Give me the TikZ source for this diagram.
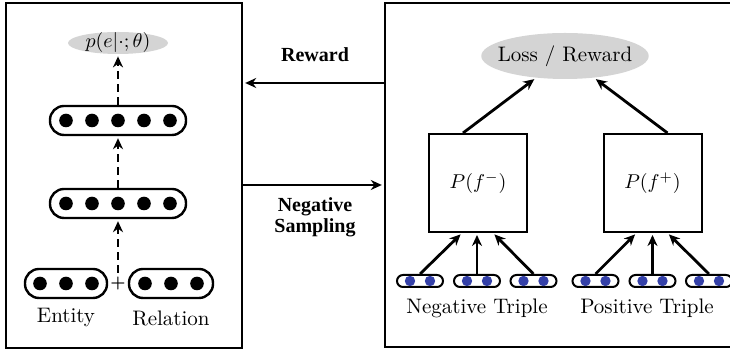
\documentclass[tikz,border=0pt]{standalone}
\usepackage{fontspec}
\newfontfamily\rewardfont{Liberation Serif}
\usetikzlibrary{arrows.meta,shapes.geometric}
\definecolor{lossgray}{RGB}{212,212,212}
\definecolor{dotblue}{RGB}{52,64,168}

\tikzset{
  panel/.style={draw,line width=1.2pt,inner sep=0pt},
  vecbox/.style={draw,line width=1.2pt,rounded corners=7pt,minimum height=14.5pt,inner sep=0pt},
  tinyvec/.style={draw,line width=1pt,rounded corners=3pt,minimum width=23pt,minimum height=6pt,inner sep=0pt},
  outbox/.style={draw,line width=1pt,minimum width=49pt,minimum height=49pt},
  score/.style={ellipse,fill=lossgray},
  biglabel/.style={font=\fontsize{10.5}{12}\selectfont},
  sidelabel/.style={font=\rewardfont\bfseries\fontsize{10}{10.5}\selectfont,align=center}
}

\begin{document}
\begin{tikzpicture}[x=0.5pt,y=-0.5pt]
\useasboundingbox (0,0) rectangle (730,351);

% generator side
\node[panel,minimum width=118pt,minimum height=172.5pt] (gen) at (124,175.5) {};
\node[score,minimum width=50pt,minimum height=11pt,inner sep=-2pt] (pe) at (118,43) {$p(e|\cdot;\theta)$};
\node[vecbox,minimum width=68pt] (hid2) at (118,120.5) {};
\node[vecbox,minimum width=68pt] (hid1) at (118,203.5) {};
\node[vecbox,minimum width=41pt] (entity) at (66,283.5) {};
\node[vecbox,minimum width=42pt] (relation) at (171,283.5) {};
\node[font=\footnotesize\bfseries,inner sep=2pt] (plus) at (118,283.5) {+};
\node[biglabel] (entitylabel) at (66,318) {Entity};
\node[biglabel] (relationlabel) at (171,318) {Relation};

\foreach \dx in {-52,-26,0,26,52} {
  \fill (hid2) ++(\dx,0) circle (3.4pt);
  \fill (hid1) ++(\dx,0) circle (3.4pt);
}
\foreach \dx in {-26,0,26} {
  \fill (entity) ++(\dx,0) circle (3.4pt);
  \fill (relation) ++(\dx,0) circle (3.4pt);
}

% discriminator side
\node[panel,minimum width=180pt,minimum height=172pt] (disc) at (565,175) {};
\node[score,biglabel,minimum width=79pt,minimum height=23pt,inner sep=-4pt] (loss) at (565,56) {Loss / Reward};
\node[outbox] (pneg) at (478,183) {$P(f^{-})$};
\node[outbox] (ppos) at (652.5,183) {$P(f^{+})$};

\node[tinyvec] (nt1) at (420,281) {};
\node[tinyvec] (nt2) at (477,281) {};
\node[tinyvec] (nt3) at (533.5,281) {};
\node[tinyvec] (pt1) at (595.5,281) {};
\node[tinyvec] (pt2) at (652.5,281) {};
\node[tinyvec] (pt3) at (709,281) {};
\node[biglabel] (neglabel) at (477,308) {Negative Triple};
\node[biglabel] (poslabel) at (647,308) {Positive Triple};

\foreach \v in {nt1,nt2,nt3,pt1,pt2,pt3} {
  \fill[dotblue] (\v) ++(-10,0) circle (2.6pt);
  \fill[dotblue] (\v) ++(10,0) circle (2.6pt);
}

% between the two sides
\node[sidelabel] (reward) at (315,55) {Reward};
\node[sidelabel] (sampling) at (315,217) {Negative\\Sampling};
\coordinate (rewardrow) at (0,83);
\coordinate (samplerow) at (0,185);

\begin{scope}[>={Stealth[black,length=5.5pt,width=5pt]},
              every edge/.style={draw,line width=1.4pt,shorten >=1pt},
              gap/.style={dash pattern=on 4pt off 2.5pt}]
    \path [->,gap] (plus.north) edge (hid1);
    \path [->,gap] (hid1) edge (hid2);
    \path [->,gap] (hid2) edge (pe);

    \path [->] (disc.west |- rewardrow) edge (gen.east |- rewardrow);
    \path [->] (gen.east |- samplerow) edge (disc.west |- samplerow);

    \path [->] ([xshift=-7.5pt]pneg.north) edge (loss);
    \path [->] ([xshift=7.5pt]ppos.north) edge (loss);

    \path [->] (nt1.north) edge ([xshift=-8pt]pneg.south);
    \path [->] (nt2.north) edge (nt2.north |- pneg.south);
    \path [->] (nt3.north) edge ([xshift=7.5pt]pneg.south);
    \path [->] (pt1.north) edge ([xshift=-8pt]ppos.south);
    \path [->] (pt2.north) edge (pt2.north |- ppos.south);
    \path [->] (pt3.north) edge ([xshift=7.5pt]ppos.south);
\end{scope}
\end{tikzpicture}
\end{document}
